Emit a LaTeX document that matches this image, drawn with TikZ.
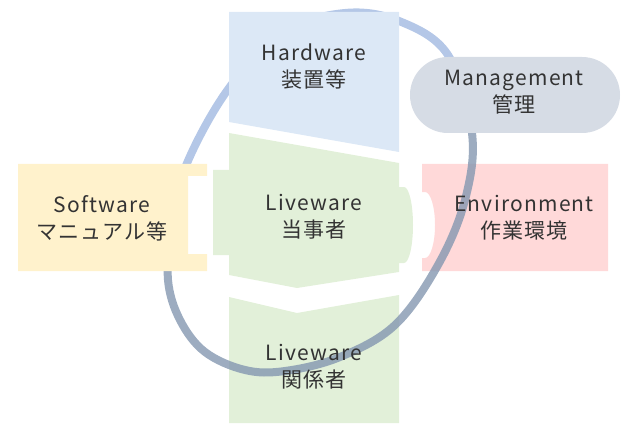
\documentclass[tikz,border=0pt]{standalone}
\usepackage{fontspec}
\setmainfont[LetterSpace=6]{Noto Sans CJK JP}
\definecolor{hwblue}{HTML}{DCE8F6}
\definecolor{lwgreen}{HTML}{E2F0D9}
\definecolor{swyellow}{HTML}{FFF2CC}
\definecolor{envpink}{HTML}{FFD9D9}
\definecolor{mgmtgray}{HTML}{D6DCE5}
\definecolor{ringtop}{HTML}{B4C7E7}
\definecolor{ringbot}{HTML}{8497B0}
\begin{document}
\begin{tikzpicture}[x=1pt,y=-1pt,
    lbl/.style={align=center,font=\fontsize{21}{27}\selectfont,text=black!80,inner sep=0pt},
    ring/.style={line width=8pt}]
    \useasboundingbox (0,0) rectangle (632,441);
    % Environment, with its notch
    \fill[envpink] (422,164) -- (608,164) -- (608,271) -- (422,271) -- (422,258) -- (425,258)
        arc[start angle=90,end angle=-90,x radius=10,y radius=33] -- (422,192) -- cycle;
    % Liveware below
    \fill[lwgreen] (229,297) -- (297,313) -- (399,295) -- (399,423) -- (229,423) -- cycle;
    % the ring
    \path[save path=\ringp] plot[smooth cycle,tension=.6] coordinates {(345,13) (399,21) (448,55) (472,133) (465,200) (438,265) (395,325) (340,357) (285,371) (245,370) (205,352) (180,320) (168,280) (172,230) (185,168) (229,88) (285,32)};
    \begin{scope}
    \clip (0,0) -- (632,0) -- (632,80) -- (0,230) -- cycle;
    \draw[ring,ringtop,use path=\ringp];
    \end{scope}
    \begin{scope}
    \clip (0,441) -- (632,441) -- (632,80) -- (0,230) -- cycle;
    \draw[ring,ringbot,opacity=.8,use path=\ringp];
    \end{scope}
    % Hardware
    \fill[hwblue] (229,12) -- (399,12) -- (399,152) -- (229,122) -- cycle;
    % Management
    \fill[mgmtgray,rounded corners=37.9pt] (410,57) rectangle (620,133);
    % Software, with its slot
    \fill[swyellow] (18,164) -- (207,164) -- (207,176) -- (188,176) -- (188,254) -- (207,254) -- (207,271) -- (18,271) -- cycle;
    % Liveware centre
    \fill[lwgreen] (229,133) -- (399,163) -- (399,187) -- (404,187)
        arc[start angle=-90,end angle=90,x radius=9,y radius=38] -- (399,263) -- (399,272)
        -- (297,288) -- (229,275) -- (229,255) -- (213,255) -- (213,170) -- (229,170) -- cycle;

    \node[lbl] (hw) at (314,67) {Hardware\\装置等};
    \node[lbl] (mg) at (514,92) {Management\\管理};
    \node[lbl] (sw) at (102,218) {Software\\マニュアル等};
    \node[lbl] (lw) at (314,217) {Liveware\\当事者};
    \node[lbl] (env) at (524,218) {Environment\\作業環境};
    \node[lbl] (lw2) at (314,367) {Liveware\\関係者};
\end{tikzpicture}
\end{document}
